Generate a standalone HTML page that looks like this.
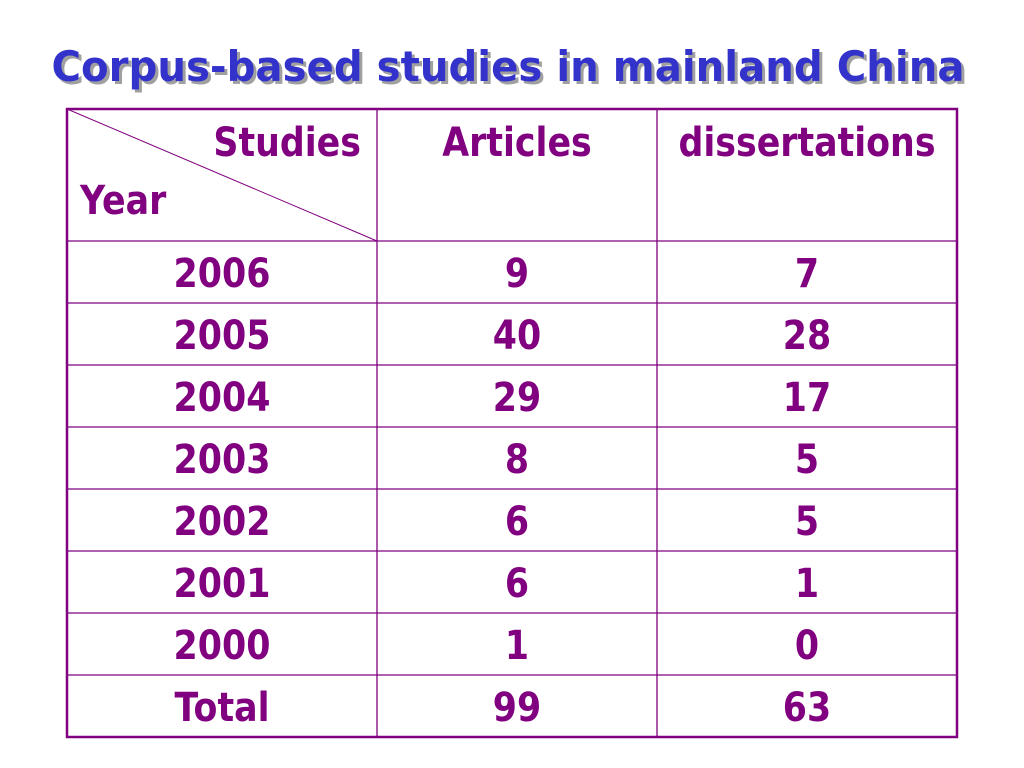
<!DOCTYPE html>
<html><head><meta charset="utf-8"><style>
html,body{margin:0;padding:0;background:#fff;width:1024px;height:768px;overflow:hidden}
svg text{font-family:"DejaVu Sans","Liberation Sans",sans-serif;font-weight:bold}
</style></head><body>
<svg width="1024" height="768">
<text x="511" y="84" text-anchor="middle" font-size="42" fill="#a0a0a0" textLength="913" lengthAdjust="spacingAndGlyphs">Corpus-based studies in mainland China</text>
<text x="508" y="81" text-anchor="middle" font-size="42" fill="#3333cc" textLength="913" lengthAdjust="spacingAndGlyphs">Corpus-based studies in mainland China</text>
<g id="tbl"></g>
</svg>
<script>
const years=["2006","2005","2004","2003","2002","2001","2000","Total"];
const articles=["9","40","29","8","6","6","1","99"];
const dissertations=["7","28","17","5","5","1","0","63"];
const g=document.getElementById('tbl');
const NS="http://www.w3.org/2000/svg";
const purple="#800080";
function mk(t,a){const e=document.createElementNS(NS,t);for(const k in a)e.setAttribute(k,a[k]);g.appendChild(e);return e;}
function txt(x,y,s,anchor){const e=mk('text',{x:x,y:y,'font-size':40,fill:purple,'text-anchor':anchor||'middle'});e.textContent=s;
const w=e.getComputedTextLength();if(w>0){e.setAttribute('textLength',(w*0.87).toFixed(1));e.setAttribute('lengthAdjust','spacingAndGlyphs');}
return e;}
const L=67,R=957,T=109,H=241,RH=62,c1=377,c2=657;
const B=H+RH*years.length;
for(let i=1;i<years.length;i++){const y=H+RH*i;const l=mk('line',{x1:L,x2:R,y1:y,y2:y,stroke:purple,'stroke-width':1.3});

}
let hl=mk('line',{x1:L,x2:R,y1:H,y2:H,stroke:purple,'stroke-width':1.3});


[c1,c2].forEach(x=>{const l=mk('line',{x1:x,x2:x,y1:T,y2:B,stroke:purple,'stroke-width':1.3});

});
let dg=mk('line',{x1:L,y1:T,x2:c1,y2:H,stroke:purple,'stroke-width':1});


let ob=mk('rect',{x:L,y:T,width:R-L,height:B-T,fill:'none',stroke:purple,'stroke-width':2.5});


let t;
t=txt(361,156,'Studies','end');


t=txt(80,214,'Year','start');


t=txt(517,156,'Articles');


t=txt(807,156,'dissertations');


years.forEach((y,i)=>{const by=H+RH*i+46;
let a=txt(222,by,y);


let b=txt(517,by,articles[i]);


let c=txt(807,by,dissertations[i]);

});
</script>
</body></html>
